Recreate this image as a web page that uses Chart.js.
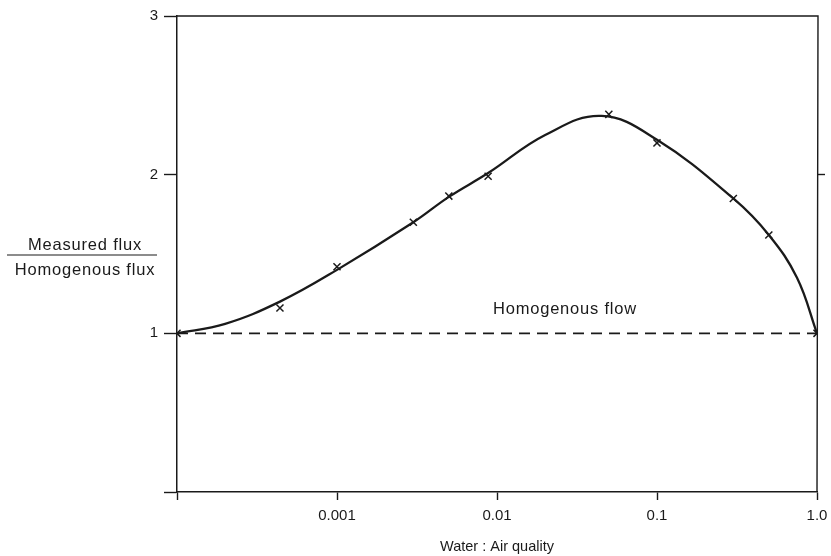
<!DOCTYPE html>
<html>
<head>
<meta charset="utf-8">
<title>Measured flux / Homogenous flux</title>
<script src="https://cdn.jsdelivr.net/npm/chart.js@4/dist/chart.umd.min.js"></script>
<style>
  body { margin: 0; background: #fff; }
  #wrap { width: 831px; height: 556px; }
</style>
</head>
<body>
<div id="wrap"><canvas id="myCanvas" width="831" height="556"></canvas></div>
<script>
// measured points (x marks)
const measuredX = [0.0001, 0.00044, 0.001, 0.003, 0.005, 0.0088, 0.05, 0.1, 0.3, 0.5, 1.0]
const measuredY = [1.0, 1.16, 1.42, 1.70, 1.865, 1.99, 2.38, 2.20, 1.85, 1.62, 1.0]

// fitted curve
const curveX = [0.0001, 0.0002, 0.00044, 0.001, 0.003, 0.005, 0.0088, 0.02, 0.045, 0.1, 0.3, 0.5, 0.75, 1.0]
const curveY = [1.0, 1.06, 1.20, 1.40, 1.70, 1.86, 2.01, 2.25, 2.37, 2.22, 1.85, 1.62, 1.35, 1.0]

// homogenous flow reference
const homX = [0.0001, 1.0]
const homY = [1, 1]

const xTicks = [0.0001, 0.001, 0.01, 0.1, 1]
const xTickLabels = ['', '0.001', '0.01', '0.1', '1.0']
const yTickLabels = ['', '1', '2', '3']

const fontFam = '"Liberation Sans", Arial, Helvetica, sans-serif'
const ink = '#1a1a1a'

function toPts(xs, ys){
  return xs.map((x, i) => ({x: x, y: ys[i]}))
}

// frame, y title fraction and the "Homogenous flow" note
const extras = {
  id: 'extras',
  afterDraw(chart){
    const ctx = chart.ctx
    const a = chart.chartArea
    const xs = chart.scales.x
    const ys = chart.scales.y
    ctx.save()
    ctx.strokeStyle = ink
    ctx.lineWidth = 1.4
    ctx.beginPath()
    ctx.moveTo(a.left, a.top)
    ctx.lineTo(a.right + 1, a.top)
    ctx.lineTo(a.right, a.bottom)
    ctx.stroke()

    ctx.fillStyle = ink
    ctx.font = '16.5px ' + fontFam
    ctx.letterSpacing = '0.8px'
    ctx.textAlign = 'center'
    ctx.textBaseline = 'middle'
    ctx.fillText('Measured flux', 85, 245)
    ctx.fillText('Homogenous flux', 85, 270)
    ctx.lineWidth = 1.2
    ctx.beginPath()
    ctx.moveTo(7, 255)
    ctx.lineTo(157, 255)
    ctx.stroke()

    ctx.fillText('Homogenous flow', xs.getPixelForValue(0.0266), ys.getPixelForValue(1.15))
    ctx.restore()
  }
}

const config = {
  type: 'scatter',
  data: {
    datasets: [
      {
        label: 'curve',
        data: toPts(curveX, curveY),
        showLine: true,
        borderColor: ink,
        borderWidth: 2.3,
        pointRadius: 0,
        tension: 0.4
      },
      {
        label: 'measured',
        data: toPts(measuredX, measuredY),
        showLine: false,
        pointStyle: 'crossRot',
        pointRadius: 5,
        borderColor: ink,
        borderWidth: 1.5,
        backgroundColor: ink
      },
      {
        label: 'homogenous',
        data: toPts(homX, homY),
        showLine: true,
        borderColor: ink,
        borderWidth: 1.8,
        borderDash: [11, 7],
        pointRadius: 0
      }
    ]
  },
  options: {
    responsive: false,
    animation: false,
    layout: { padding: { top: 16, left: 0, right: 0, bottom: 0 } },
    plugins: { legend: { display: false }, tooltip: { enabled: false } },
    scales: {
      x: {
        type: 'logarithmic',
        position: 'bottom',
        min: 0.0001,
        max: 1,
        afterBuildTicks: (s) => { s.ticks = xTicks.map(v => ({value: v})) },
        afterFit: (s) => { s.height = 64; s.paddingLeft = 0; s.paddingRight = 0 },
        border: { color: ink, width: 1.5 },
        grid: { drawOnChartArea: false, color: ink, tickLength: 8, tickWidth: 1.4 },
        ticks: {
          color: ink,
          font: { size: 15, family: fontFam },
          padding: 7,
          maxRotation: 0,
          autoSkip: false,
          callback: (v, i) => xTickLabels[i]
        },
        title: {
          display: true,
          text: 'Water : Air quality',
          color: ink,
          font: { size: 14.5, family: fontFam },
          padding: { top: 4, bottom: 0 }
        }
      },
      y: {
        position: 'left',
        min: 0,
        max: 3,
        afterBuildTicks: (s) => { s.ticks = yTickLabels.map((t, i) => ({value: i})) },
        afterFit: (s) => { s.width = 177; s.paddingTop = 0; s.paddingBottom = 0 },
        border: { color: ink, width: 1.5 },
        grid: { drawOnChartArea: false, color: ink, tickLength: 13, tickWidth: 1.4 },
        ticks: {
          color: ink,
          font: { size: 15, family: fontFam },
          padding: 6,
          callback: (v, i) => yTickLabels[i]
        }
      },
      y2: {
        position: 'right',
        min: 0,
        max: 3,
        afterBuildTicks: (s) => { s.ticks = [{value: 2}] },
        afterFit: (s) => { s.width = 14 },
        border: { display: false },
        grid: { drawOnChartArea: false, color: ink, tickLength: 8, tickWidth: 1.4 },
        ticks: { display: false }
      }
    }
  },
  plugins: [extras]
}

var myChart = new Chart(document.getElementById('myCanvas'), config)
</script>
</body>
</html>
